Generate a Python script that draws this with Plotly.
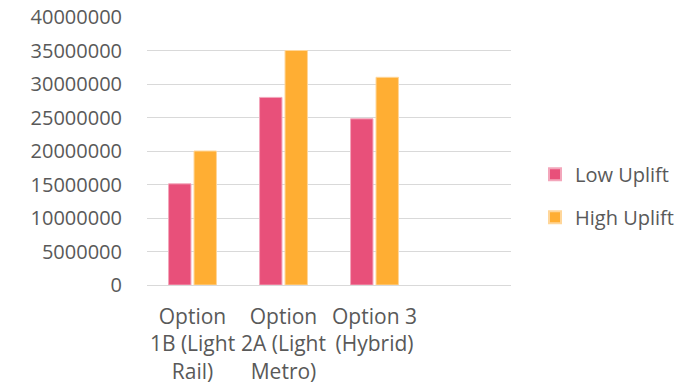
import plotly.graph_objects as go

categories = ["Option<br>1B (Light<br>Rail)", "Option<br>2A (Light<br>Metro)", "Option 3<br>(Hybrid)", " "]
low_uplift = [15100000, 28000000, 24800000, None]
high_uplift = [20000000, 35000000, 31000000, None]
y_ticks = [0, 5000000, 10000000, 15000000, 20000000, 25000000, 30000000, 35000000, 40000000]

FONT = "Open Sans"
GREY = "#595959"

fig = go.Figure()
fig.add_trace(go.Bar(name="Low Uplift", x=categories, y=low_uplift,
                     marker=dict(color="#E8507A", line=dict(color="#F3A6BB", width=1)),
                     legendgroup="a"))
fig.add_trace(go.Bar(name="High Uplift", x=categories, y=high_uplift,
                     marker=dict(color="#FFAE33", line=dict(color="#FFD699", width=1)),
                     legendgroup="b"))

fig.update_layout(
    width=679, height=387,
    margin=dict(l=147, r=168, t=17, b=102, autoexpand=False),
    paper_bgcolor="white", plot_bgcolor="white",
    barmode="group", bargap=0.44, bargroupgap=0.12,
    font=dict(family=FONT, size=20, color=GREY),
    showlegend=True,
    legend=dict(x=1.066, xanchor="left", y=0.333, yanchor="middle",
                xref="paper", font=dict(family=FONT, size=20, color=GREY),
                tracegroupgap=14, traceorder="grouped", itemsizing="constant",
                bgcolor="rgba(0,0,0,0)"),
    xaxis=dict(type="category", showgrid=False, showline=False, zeroline=False,
               ticks="", ticklabelstandoff=17,
               tickfont=dict(family=FONT, size=21, color=GREY),
               categoryorder="array", categoryarray=categories),
    yaxis=dict(range=[0, 40000000], tickvals=y_ticks,
               ticktext=[str(v) for v in y_ticks],
               showgrid=True, gridcolor="#D9D9D9", gridwidth=1.3,
               zeroline=True, zerolinecolor="#D9D9D9", zerolinewidth=1.3,
               showline=False, ticks="", ticklabelstandoff=24,
               tickfont=dict(family=FONT, size=20, color=GREY)),
)

fig.write_html("out.html")
